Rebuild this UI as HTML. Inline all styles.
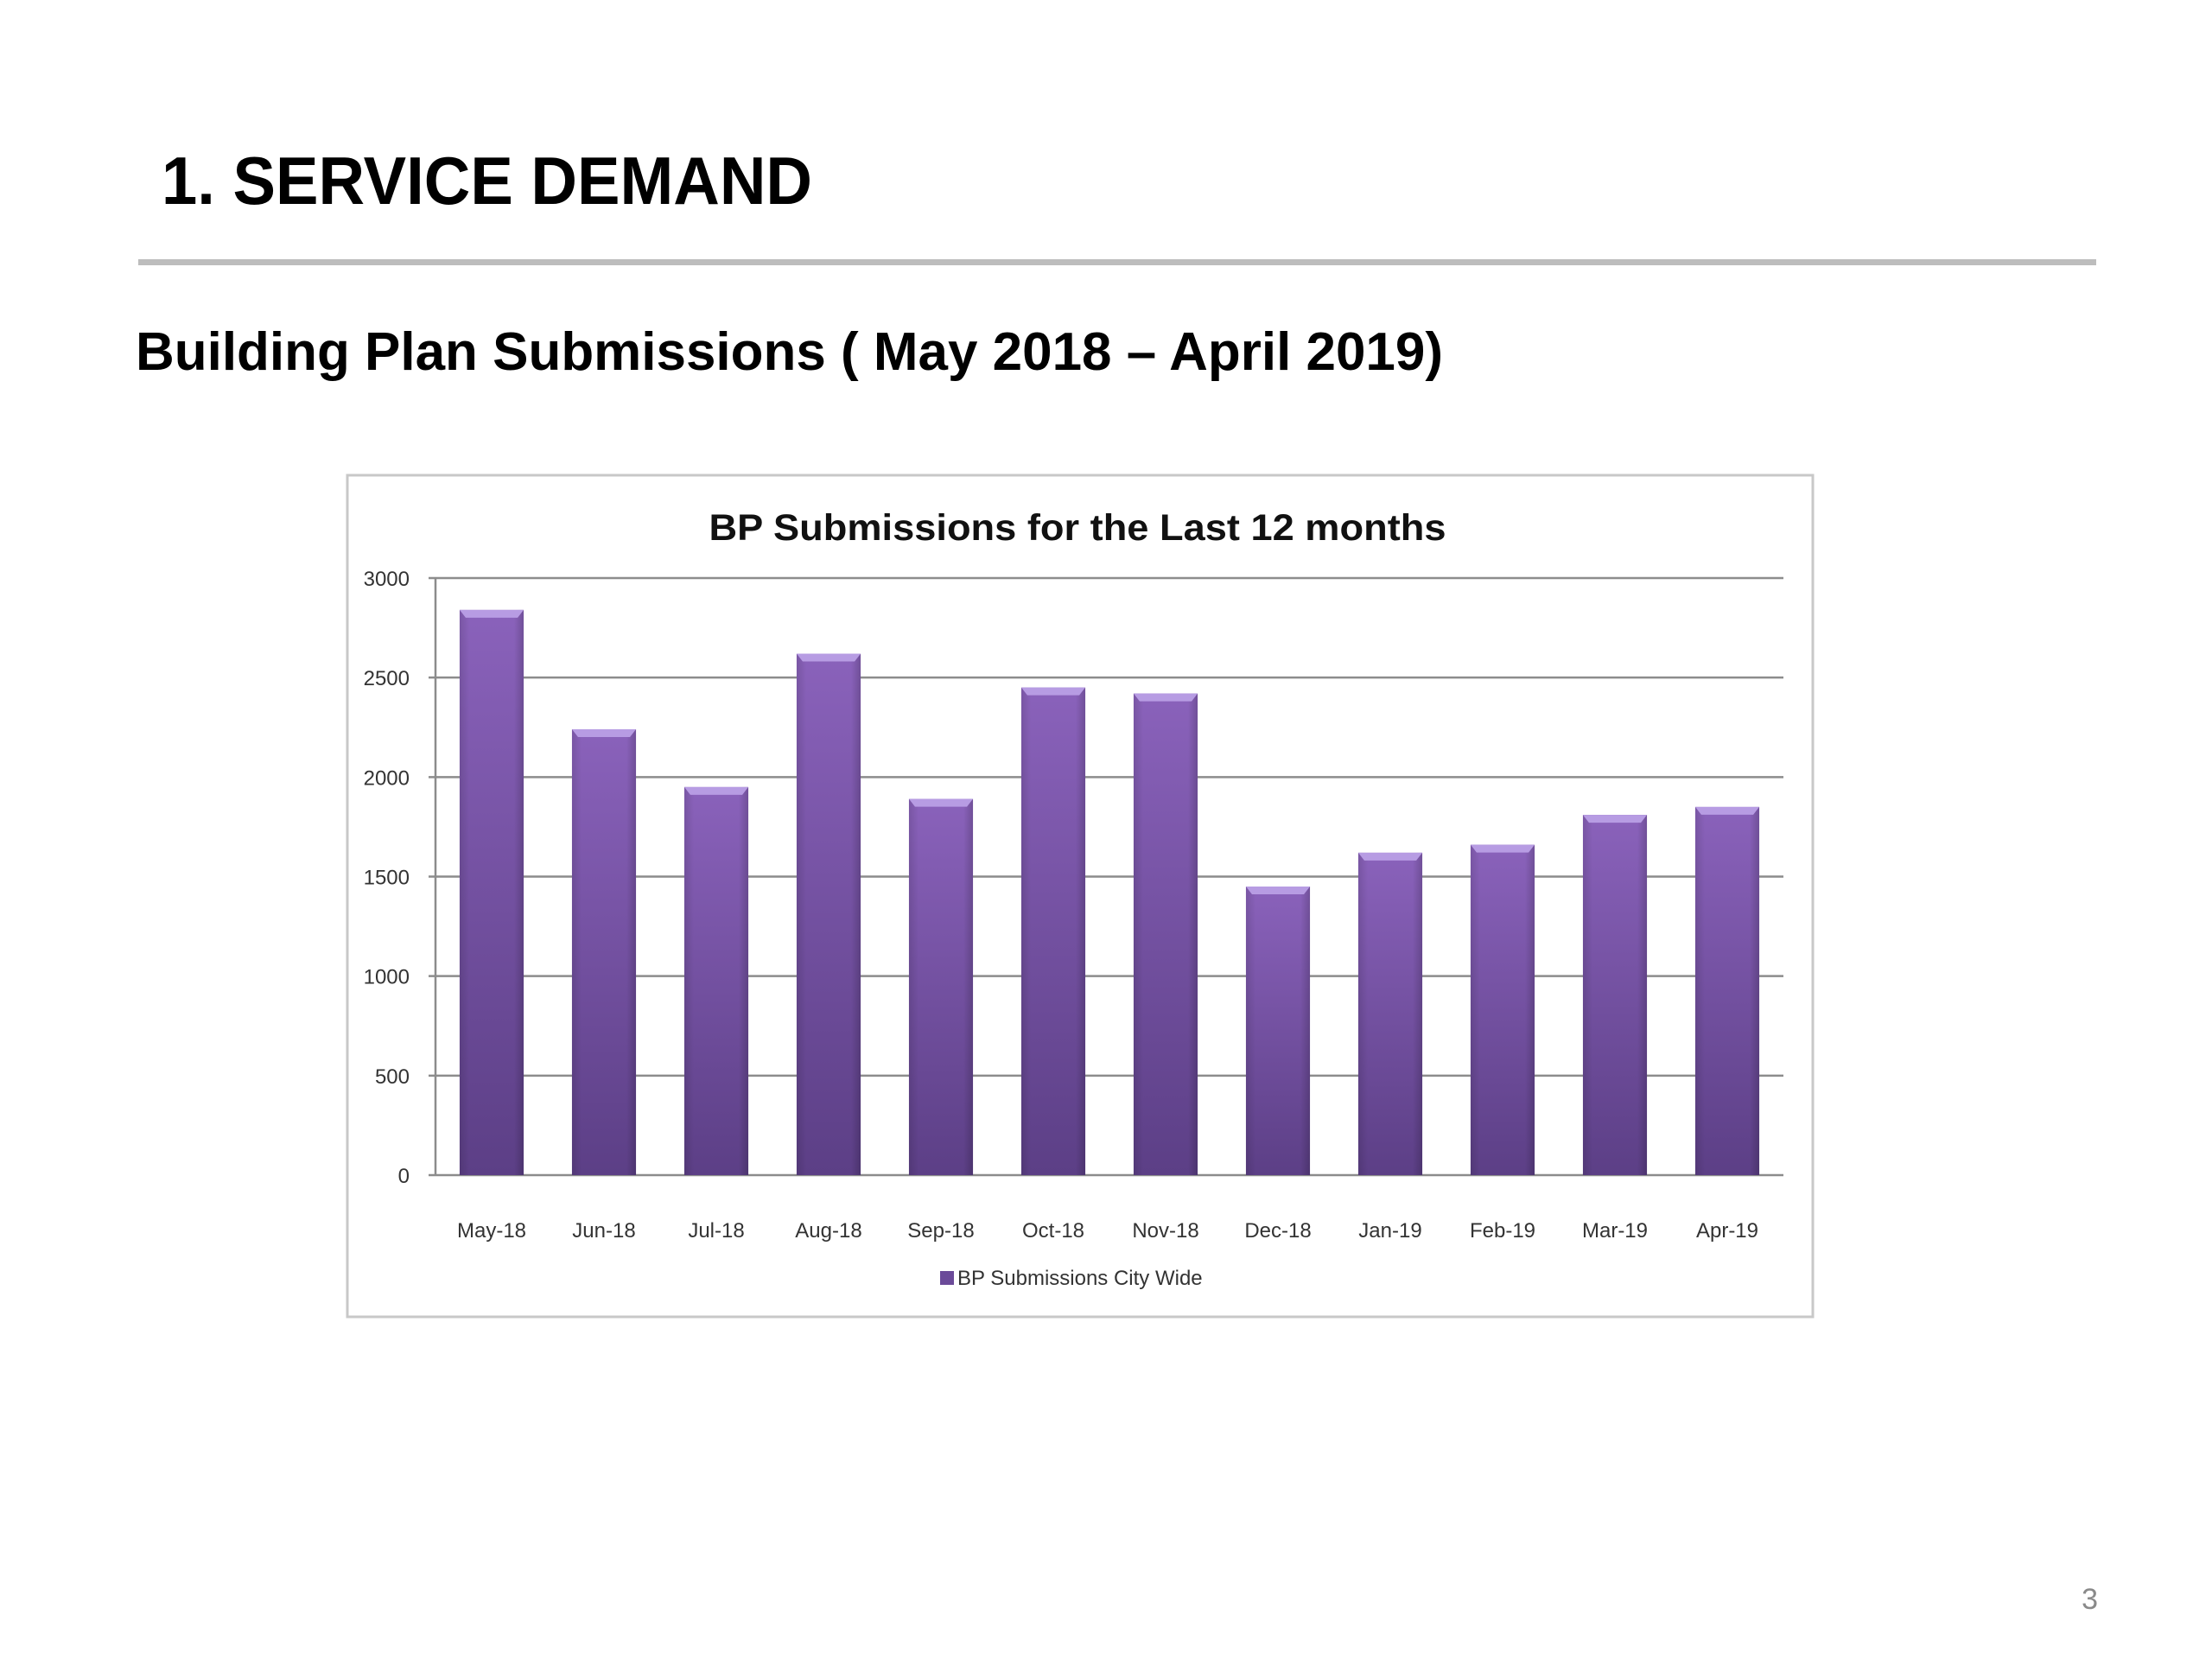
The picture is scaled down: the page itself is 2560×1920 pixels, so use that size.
<!DOCTYPE html>
<html><head><meta charset="utf-8">
<style>
html,body{margin:0;padding:0;background:#fff;}
svg{display:block;}
text{font-family:"Liberation Sans",sans-serif;}
</style></head>
<body>
<svg id="page" width="2560" height="1920" viewBox="0 0 2560 1920" xmlns="http://www.w3.org/2000/svg">
<defs>
<linearGradient id="barGrad" x1="0" y1="0" x2="0" y2="1">
<stop offset="0" stop-color="#8a62bb"/>
<stop offset="1" stop-color="#5c3f86"/>
</linearGradient>
<linearGradient id="barSide" x1="0" y1="0" x2="1" y2="0">
<stop offset="0" stop-color="#000" stop-opacity="0.12"/>
<stop offset="0.15" stop-color="#000" stop-opacity="0"/>
<stop offset="0.85" stop-color="#000" stop-opacity="0"/>
<stop offset="1" stop-color="#000" stop-opacity="0.18"/>
</linearGradient>
</defs>
<text x="187" y="236" font-size="78" font-weight="bold" fill="#000" textLength="753" lengthAdjust="spacingAndGlyphs">1. SERVICE DEMAND</text>
<rect x="160" y="300" width="2266" height="7" fill="#bdbdbd"/>
<text x="157" y="428" font-size="62" font-weight="bold" fill="#000" textLength="1513" lengthAdjust="spacingAndGlyphs">Building Plan Submissions ( May 2018 – April 2019)</text>

<g>
<rect x="402" y="550" width="1696" height="974" fill="#fff" stroke="#c8c8c8" stroke-width="3"/>
<text x="1247" y="625" font-size="43" font-weight="bold" fill="#111" text-anchor="middle" textLength="853" lengthAdjust="spacingAndGlyphs">BP Submissions for the Last 12 months</text>
<g id="grid"></g>
<g id="bars"></g>
<g id="xlabels"></g>
<rect x="1088" y="1471" width="16" height="16" fill="#6b4a99"/>
<text x="1108" y="1487" font-size="24" fill="#333">BP Submissions City Wide</text>
</g>
<text x="2428" y="1862" font-size="34" fill="#8a8a8a" text-anchor="end">3</text>
</svg>
<script>
const categories = ["May-18","Jun-18","Jul-18","Aug-18","Sep-18","Oct-18","Nov-18","Dec-18","Jan-19","Feb-19","Mar-19","Apr-19"];
const submissions = [2840,2240,1950,2620,1890,2450,2420,1450,1620,1660,1810,1850];
const yTicks = [0,500,1000,1500,2000,2500,3000];

const NS = "http://www.w3.org/2000/svg";
const plotL = 504, plotR = 2064, y0 = 1360, yTop = 669, yMax = 3000;
const yScale = v => y0 - (v / yMax) * (y0 - yTop);
const bandW = (plotR - plotL) / categories.length;
const xCenter = i => plotL + bandW * (i + 0.5);
const barW = bandW * 0.57;
function mk(tag, attrs){const e=document.createElementNS(NS,tag);for(const k in attrs)e.setAttribute(k,attrs[k]);return e;}

const grid = document.getElementById('grid');
yTicks.forEach(t => {
  const y = yScale(t);
  const line = mk('line',{x1:plotL-8,x2:plotR,y1:y,y2:y,stroke:'#8c8c8c','stroke-width':2.5});
  
  
  grid.appendChild(line);
  const lab = mk('text',{x:474,y:y+9,'font-size':24,fill:'#333','text-anchor':'end'});
  lab.textContent = t;
  
  
  grid.appendChild(lab);
});
const axis = mk('line',{x1:plotL,x2:plotL,y1:yTop,y2:y0,stroke:'#8c8c8c','stroke-width':2.5});


grid.appendChild(axis);

const bars = document.getElementById('bars');
const xl = document.getElementById('xlabels');
submissions.forEach((v,i) => {
  const x = xCenter(i) - barW/2, y = yScale(v), h = y0 - y;
  const g = mk('g',{});
  
  
  g.appendChild(mk('rect',{x:x,y:y,width:barW,height:h,fill:'url(#barGrad)'}));
  g.appendChild(mk('rect',{x:x,y:y,width:barW,height:h,fill:'url(#barSide)'}));
  g.appendChild(mk('polygon',{points:`${x},${y} ${x+barW},${y} ${x+barW-7},${y+9} ${x+7},${y+9}`,fill:'#b79ce3'}));
  bars.appendChild(g);
  const t = mk('text',{x:xCenter(i),y:1432,'font-size':24,fill:'#333','text-anchor':'middle'});
  t.textContent = categories[i];
  
  
  xl.appendChild(t);
});
</script>
</body></html>
